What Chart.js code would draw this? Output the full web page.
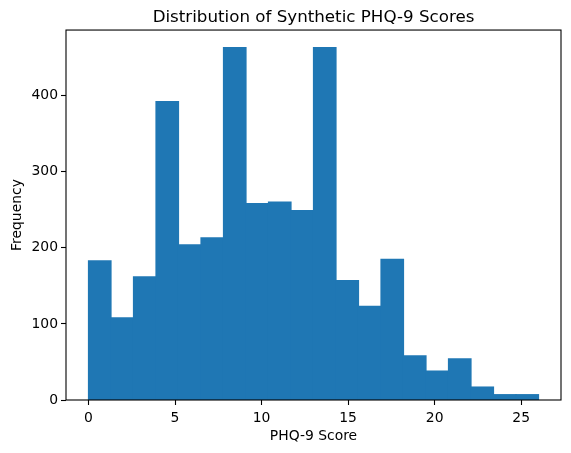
<!DOCTYPE html>
<html>
<head>
<meta charset="utf-8">
<script src="https://cdn.jsdelivr.net/npm/chart.js"></script>
<style>
    html, body { margin: 0; padding: 0; background: #fff; }
    #wrap { width: 571px; height: 453px; }
</style>
</head>
<body>
<div id="wrap"><canvas id="hist"></canvas></div>
<script>
    // histogram bins (20 bins from 0 to 26) and the counts
    var binEdges = [0, 1.3, 2.6, 3.9, 5.2, 6.5, 7.8, 9.1, 10.4, 11.7, 13, 14.3, 15.6, 16.9, 18.2, 19.5, 20.8, 22.1, 23.4, 24.7, 26];
    var counts = [183, 108, 162, 392, 204, 213, 463, 258, 260, 249, 463, 157, 123, 185, 58, 38, 54, 17, 7, 7];
    var xTicks = [0, 5, 10, 15, 20, 25];
    var yTicks = [0, 100, 200, 300, 400];

    var font = "'DejaVu Sans', sans-serif";

    var spines = {
        id: "spines",
        afterDraw: function(chart) {
            var a = chart.chartArea, ctx = chart.ctx;
            ctx.save();
            ctx.strokeStyle = "#000";
            ctx.lineWidth = 1.1;
            ctx.strokeRect(a.left, a.top, a.right - a.left, a.bottom - a.top);
            ctx.restore();
        }
    };

    new Chart(document.getElementById("hist").getContext("2d"), {
        type: "bar",
        data: {
            datasets: [{
                label: "PHQ-9",
                data: counts.map(function(c, i) {
                    return { x: (binEdges[i] + binEdges[i + 1]) / 2, y: c };
                }),
                backgroundColor: "#1f77b4",
                borderColor: "#1f77b4",
                borderWidth: 0,
                inflateAmount: 0.6,
                barPercentage: 1,
                categoryPercentage: 1
            }]
        },
        options: {
            responsive: true,
            maintainAspectRatio: false,
            animation: false,
            layout: { padding: { left: 0, right: 10, top: 0, bottom: 0 } },
            plugins: {
                legend: { display: false },
                tooltip: { enabled: false },
                title: {
                    display: true,
                    fullSize: false,
                    text: "Distribution of Synthetic PHQ-9 Scores",
                    color: "#000",
                    font: { family: font, size: 16.7, weight: "normal", lineHeight: 1.2 },
                    padding: { top: 7.5, bottom: 2.5 }
                }
            },
            scales: {
                x: {
                    type: "linear",
                    offset: false,
                    min: binEdges[0] - 1.3,
                    max: binEdges[binEdges.length - 1] + 1.3,
                    afterBuildTicks: function(scale) {
                        scale.ticks = xTicks.map(function(v) { return { value: v }; });
                    },
                    afterFit: function(scale) { scale.height = 53; },
                    ticks: {
                        color: "#000",
                        font: { family: font, size: 13.9 },
                        padding: 5,
                        maxRotation: 0,
                        autoSkip: false
                    },
                    grid: {
                        offset: false,
                        drawOnChartArea: false,
                        drawTicks: true,
                        tickLength: 5,
                        tickColor: "#000",
                        tickWidth: 1.1
                    },
                    border: { display: false },
                    title: {
                        display: true,
                        text: "PHQ-9 Score",
                        color: "#000",
                        font: { family: font, size: 13.9, lineHeight: 1.2 },
                        padding: { top: 0, bottom: 8 }
                    }
                },
                y: {
                    min: 0,
                    max: 486.2,
                    afterBuildTicks: function(scale) {
                        scale.ticks = yTicks.map(function(v) { return { value: v }; });
                    },
                    afterFit: function(scale) { scale.width = 66; },
                    ticks: {
                        color: "#000",
                        font: { family: font, size: 13.9 },
                        padding: 3,
                        autoSkip: false
                    },
                    grid: {
                        drawOnChartArea: false,
                        drawTicks: true,
                        tickLength: 5,
                        tickColor: "#000",
                        tickWidth: 1.1
                    },
                    border: { display: false },
                    title: {
                        display: true,
                        text: "Frequency",
                        color: "#000",
                        font: { family: font, size: 13.9, lineHeight: 1.2 },
                        padding: { top: 8.6, bottom: 0 }
                    }
                }
            }
        },
        plugins: [spines]
    });
</script>
</body>
</html>
